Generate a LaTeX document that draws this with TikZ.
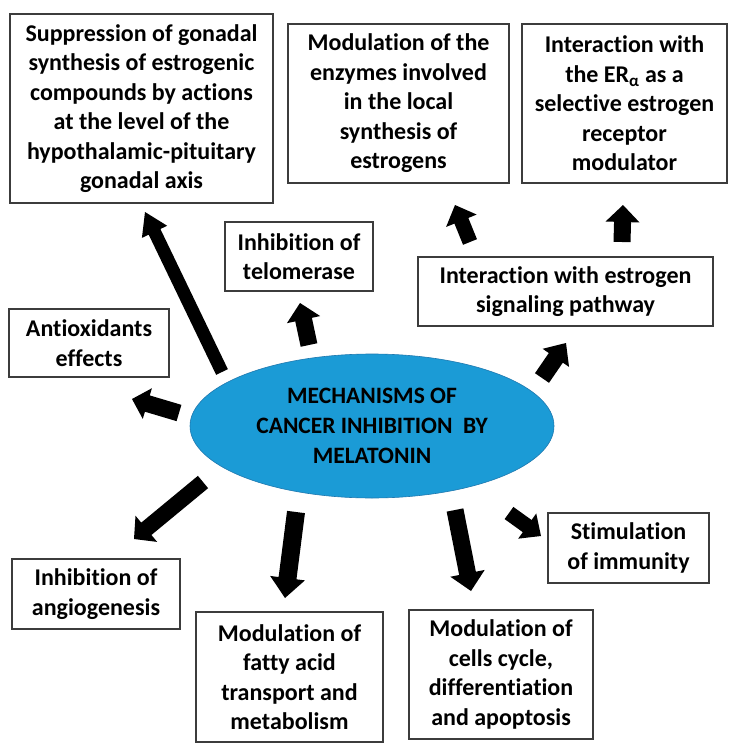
\documentclass[tikz,border=0pt]{standalone}
\usepackage{fontspec}
\setmainfont{Carlito}[Ligatures={NoCommon}]
\usetikzlibrary{calc,shapes.geometric}
\definecolor{ellblue}{RGB}{27,155,214}
\definecolor{ellline}{RGB}{30,120,175}
\definecolor{boxline}{RGB}{60,60,60}
\newcommand{\fatarrow}[5]{%
  \coordinate (fa-h) at ($(#2)!#5pt!(#1)$);
  \fill[black] ($(#1)!#3pt!90:(#2)$) -- ($(fa-h)!#3pt!90:(#2)$) -- ($(fa-h)!#4pt!90:(#2)$) -- (#2)
    -- ($(fa-h)!#4pt!-90:(#2)$) -- ($(fa-h)!#3pt!-90:(#2)$) -- ($(#1)!#3pt!-90:(#2)$) -- cycle;}
\begin{document}
\begin{tikzpicture}[x=1pt,y=-1pt,
  box/.style={draw=boxline, line width=1.3pt, align=center, inner sep=0pt,
    font=\bfseries\fontsize{24}{29.5}\selectfont, text=black},
  wh/.style n args={2}{minimum width=#1pt, minimum height=#2pt}]
\useasboundingbox (0,0) rectangle (742,754);
\fill[white] (0,0) rectangle (742,754);

% central ellipse
\node[ellipse, fill=ellblue, draw=ellline, line width=0.6pt, minimum width=364pt, minimum height=144pt,
  inner sep=0pt, align=center, font=\bfseries\fontsize{23.5}{30}\selectfont] (c) at (372,426)
  {MECHANISMS OF\\CANCER INHIBITION\ \ BY\\MELATONIN};

% boxes
\node[box, wh={263}{189}] (supp) at (141.5,108.5)
  {Suppression of gonadal\\synthesis of estrogenic\\compounds by actions\\at the level of the\\hypothalamic-pituitary\\gonadal axis};
\node[box, wh={221}{159}] (enz) at (398.5,103.5)
  {Modulation of the\\enzymes involved\\in the local\\synthesis of\\estrogens};
\node[box, wh={205}{159}] (er) at (624.5,103.5)
  {Interaction with\\the ER\textsubscript{α} as a\\selective estrogen\\receptor\\modulator};
\node[box, wh={148}{69}] (tel) at (299,256.5) {Inhibition of\\telomerase};
\node[box, wh={295}{69}] (sig) at (565.5,291.5) {Interaction with estrogen\\signaling pathway};
\node[box, wh={160}{68}] (anti) at (89,343) {Antioxidants\\effects};
\node[box, wh={168}{70}] (angio) at (96,594) {Inhibition of\\angiogenesis};
\node[box, wh={187}{130}] (fat) at (289.5,677) {Modulation of\\fatty acid\\transport and\\metabolism};
\node[box, wh={184}{129}] (cell) at (501,674.5) {Modulation of\\cells cycle,\\differentiation\\and apoptosis};
\node[box, wh={161}{70}] (imm) at (628.5,548) {Stimulation\\of immunity};

% arrow end points
\coordinate (a1t) at (222,372); \coordinate (a1h) at (145,212);
\coordinate (a2t) at (309,345); \coordinate (a2h) at (300,303);
\coordinate (a3t) at (179,413); \coordinate (a3h) at (132,399);
\coordinate (a4t) at (203,482); \coordinate (a4h) at (134,539);
\coordinate (a5t) at (296,512); \coordinate (a5h) at (285,598);
\coordinate (a6t) at (455,510); \coordinate (a6h) at (471,591);
\coordinate (a7t) at (509,513); \coordinate (a7h) at (541,536);
\coordinate (a8t) at (542,378); \coordinate (a8h) at (566,343);
\coordinate (a9t) at (470,242); \coordinate (a9h) at (455,205);
\coordinate (a10t) at (622,242); \coordinate (a10h) at (623,205);

\fatarrow{a1t}{a1h}{6.5}{14}{22}
\fatarrow{a2t}{a2h}{8.5}{17}{17}
\fatarrow{a3t}{a3h}{8.5}{16}{16}
\fatarrow{a4t}{a4h}{8}{17}{16}
\fatarrow{a5t}{a5h}{9}{17.5}{20}
\fatarrow{a6t}{a6h}{8.5}{17.5}{18}
\fatarrow{a7t}{a7h}{7.5}{15.5}{17}
\fatarrow{a8t}{a8h}{8.5}{16}{18}
\fatarrow{a9t}{a9h}{7.5}{16.5}{17}
\fatarrow{a10t}{a10h}{8.5}{17}{17}
\end{tikzpicture}
\end{document}
